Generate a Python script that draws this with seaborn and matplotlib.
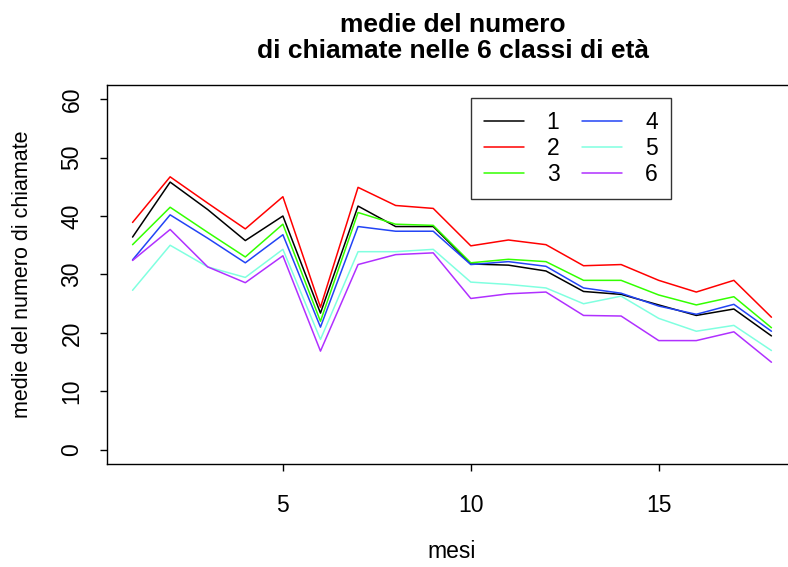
import numpy as np
import pandas as pd
import matplotlib
matplotlib.use("Agg")
import matplotlib.pyplot as plt
import seaborn as sns
from matplotlib.lines import Line2D

mesi = list(range(1, 19))
classe_1 = [36.4, 45.8, 41.1, 35.8, 40.0, 23.4, 41.7, 38.2, 38.2, 31.8, 31.6, 30.6, 27.1, 26.6, 24.8, 23.0, 24.1, 19.5]
classe_2 = [38.9, 46.7, 42.2, 37.8, 43.3, 24.4, 44.9, 41.8, 41.3, 34.9, 35.9, 35.1, 31.5, 31.7, 29.0, 27.0, 29.0, 22.7]
classe_3 = [35.1, 41.5, 37.2, 33.0, 38.6, 22.0, 40.6, 38.6, 38.4, 32.0, 32.6, 32.2, 29.0, 29.0, 26.5, 24.8, 26.2, 20.9]
classe_4 = [32.5, 40.2, 36.2, 32.0, 36.8, 21.0, 38.2, 37.4, 37.4, 31.7, 32.2, 31.4, 27.7, 26.8, 24.6, 23.2, 24.9, 20.3]
classe_5 = [27.3, 35.0, 31.3, 29.5, 34.3, 18.9, 33.9, 33.9, 34.3, 28.7, 28.3, 27.7, 25.0, 26.3, 22.5, 20.3, 21.3, 17.0]
classe_6 = [32.4, 37.7, 31.3, 28.6, 33.2, 16.9, 31.7, 33.4, 33.7, 25.9, 26.7, 27.0, 23.0, 22.9, 18.7, 18.7, 20.2, 15.0]
classi = ["1", "2", "3", "4", "5", "6"]
colori = ["#000000", "#FF0000", "#33FF00", "#2244F5", "#80FFE0", "#B030FF"]
x_ticks = [5, 10, 15]
y_ticks = [0, 10, 20, 30, 40, 50, 60]

series = [classe_1, classe_2, classe_3, classe_4, classe_5, classe_6]
df = pd.DataFrame({
    "mese": np.tile(mesi, len(classi)),
    "valore": np.concatenate(series),
    "classe": np.repeat(classi, len(mesi)),
})

sns.set_style("white")
plt.rcParams["font.family"] = ["Liberation Sans", "DejaVu Sans"]
plt.rcParams["text.color"] = "black"
plt.rcParams["axes.labelcolor"] = "black"
plt.rcParams["xtick.color"] = "black"
plt.rcParams["ytick.color"] = "black"

W, H = 788, 567
fig = plt.figure(figsize=(W / 100, H / 100), dpi=100)
left_px, right_px, top_px, bot_px = 107, 797, 85, 464
ax = fig.add_axes([left_px / W, (H - bot_px) / H, (right_px - left_px) / W, (bot_px - top_px) / H])

sns.lineplot(data=df, x="mese", y="valore", hue="classe", palette=colori,
             ax=ax, linewidth=1.1, legend=False)

ax.set_xlim(0.32, 18.68)
ax.set_ylim(-2.4, 62.4)
ax.set_xticks(x_ticks)
ax.set_yticks(y_ticks)
ax.set_xticklabels([str(v) for v in x_ticks], fontsize=16.5)
ax.set_yticklabels([str(v) for v in y_ticks], fontsize=16.5, rotation=90, va="center")
ax.tick_params(axis="x", direction="out", length=5, width=1, bottom=True, pad=16.5)
ax.tick_params(axis="y", direction="out", length=5, width=1, left=True, pad=12)
for s in ax.spines.values():
    s.set_color("black")
    s.set_linewidth(1.0)

ax.set_xlabel("mesi", fontsize=16.5, labelpad=17)
ax.set_ylabel("medie del numero di chiamate", fontsize=15.5, labelpad=20)

fig.text(453 / W, 1 - 38 / H, "medie del numero\ndi chiamate nelle 6 classi di età",
         ha="center", va="center", fontsize=19, fontweight="bold", linespacing=1.15)

handles = [Line2D([0], [0], color=c, lw=1.1) for c in colori]
leg = fig.legend(handles, classi, loc="upper left",
                 bbox_to_anchor=(471 / W, 1 - 98 / H), ncol=2,
                 fontsize=16.5, frameon=True, fancybox=False, edgecolor="black",
                 handlelength=1.75, handletextpad=1.0, columnspacing=1.0,
                 labelspacing=0.15, borderpad=0.55, borderaxespad=0)
leg.get_frame().set_linewidth(1.0)

fig.savefig("out.png", dpi=100)
